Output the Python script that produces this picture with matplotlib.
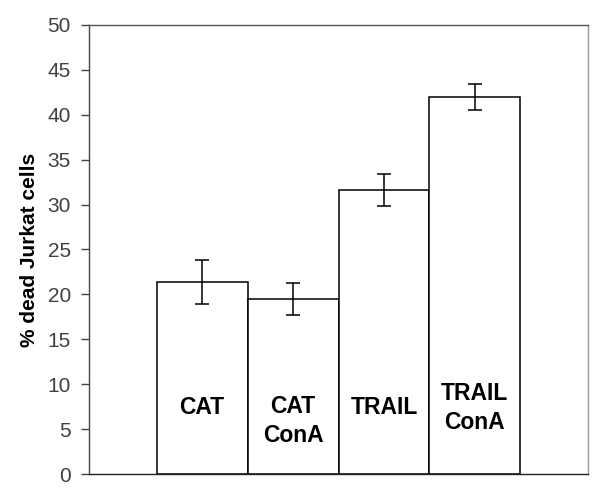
import matplotlib
matplotlib.use("Agg")
import matplotlib.pyplot as plt

categories = ["CAT", "CAT\nConA", "TRAIL", "TRAIL\nConA"]
values = [21.4, 19.5, 31.6, 42.0]
errors = [2.45, 1.8, 1.8, 1.45]
label_y = [7.35, 5.9, 7.35, 7.35]
yticks = [0, 5, 10, 15, 20, 25, 30, 35, 40, 45, 50]

plt.rcParams['font.family'] = ['Liberation Sans', 'DejaVu Sans']

fig = plt.figure(figsize=(6, 4.9), dpi=100)
ax = fig.add_axes([89/600, 16/490, (588-89)/600, (474-25)/490])

x = list(range(len(values)))
ax.bar(x, values, width=1.0, color='white', edgecolor='black', linewidth=1.1, zorder=2)
ax.errorbar(x, values, yerr=errors, fmt='none', ecolor='black', elinewidth=1.1,
            capsize=5.3, capthick=1.1, zorder=3)

for xi, lab, ly in zip(x, categories, label_y):
    ax.text(xi, ly, lab, ha='center', va='center', fontsize=16.5, fontweight='bold',
            linespacing=1.35, color='black', zorder=4)

ax.set_xlim(-1.245, 4.245)
ax.set_ylim(0, 50)
ax.set_yticks(yticks)
ax.set_yticklabels([str(t) for t in yticks], fontsize=15, color='#404040')
ax.set_xticks([])
ax.tick_params(axis='y', direction='out', length=6, width=1, color='#444444', pad=7)

ax.spines['left'].set_color('#444444')
ax.spines['bottom'].set_color('#222222')
ax.spines['top'].set_color('#555555')
ax.spines['right'].set_color('#999999')
for s in ax.spines.values():
    s.set_linewidth(1.0)

ax.set_ylabel('% dead Jurkat cells', fontsize=15, fontweight='bold', labelpad=6)

fig.savefig('out.png', dpi=100)
